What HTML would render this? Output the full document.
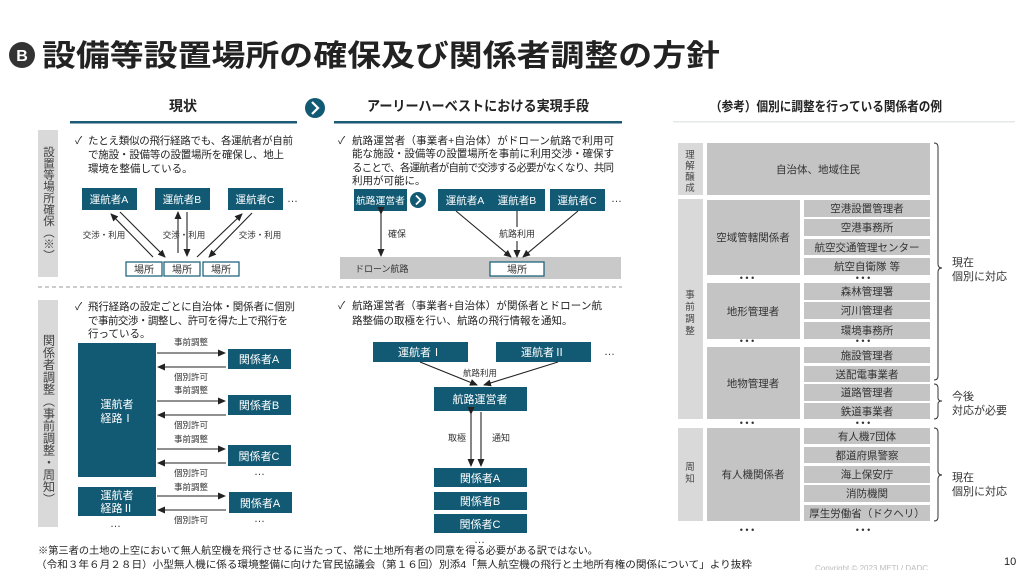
<!DOCTYPE html>
<html><head><meta charset="utf-8"><style>
html,body{margin:0;padding:0;background:#fff;}
svg{display:block;font-family:"Liberation Sans","Noto Sans CJK JP",sans-serif;}
</style></head><body>
<svg width="1023" height="570" viewBox="0 0 1023 570" xmlns="http://www.w3.org/2000/svg">
<defs>
<marker id="ah" markerWidth="8" markerHeight="8" refX="7" refY="4" orient="auto" markerUnits="userSpaceOnUse"><path d="M0,0.5 L8,4 L0,7.5 z" fill="#222"/></marker>
</defs>
<!-- Title -->
<circle cx="22" cy="55" r="13" fill="#333"/>
<text x="22" y="61" font-size="16" font-weight="bold" fill="#fff" text-anchor="middle">B</text>
<text x="42" y="66" font-size="30" font-weight="bold" fill="#222" textLength="678" lengthAdjust="spacingAndGlyphs">設備等設置場所の確保及び関係者調整の方針</text>

<!-- Headers -->
<text x="183" y="111" font-size="14" font-weight="bold" fill="#222" text-anchor="middle">現状</text>
<rect x="70" y="121" width="227" height="2.5" fill="#1a5a75"/>
<circle cx="315" cy="108" r="10" fill="#125a74"/>
<path d="M312,102 L318,108 L312,114" stroke="#fff" stroke-width="2.2" fill="none"/>
<text x="478" y="111" font-size="14" font-weight="bold" fill="#222" text-anchor="middle" textLength="222" lengthAdjust="spacingAndGlyphs">アーリーハーベストにおける実現手段</text>
<rect x="334" y="121" width="288" height="2.5" fill="#1a5a75"/>
<text x="826" y="111" font-size="13" font-weight="bold" fill="#222" text-anchor="middle" textLength="232" lengthAdjust="spacingAndGlyphs">（参考）個別に調整を行っている関係者の例</text>
<rect x="673" y="121" width="342" height="1.5" fill="#e4e8ea"/>

<!-- Left label columns -->
<rect x="38" y="130" width="20" height="147" fill="#d9d9d9"/>
<text x="48" y="146" font-size="11.5" fill="#444" style="writing-mode:vertical-rl;glyph-orientation-vertical:auto">設置等場所確保（※）</text>
<rect x="38" y="300" width="20" height="227" fill="#d9d9d9"/>
<text x="48" y="334" font-size="12.2" fill="#444" style="writing-mode:vertical-rl">関係者調整（事前調整・周知）</text>

<line x1="38" y1="287" x2="622" y2="287" stroke="#999" stroke-width="1" stroke-dasharray="4,3"/>

<!-- Upper left bullet -->
<text font-size="10.5" fill="#222">
<tspan x="75" y="144">✓</tspan>
<tspan x="88" y="144" textLength="205">たとえ類似の飛行経路でも、各運航者が自前</tspan>
<tspan x="88" y="158" textLength="196">で施設・設備等の設置場所を確保し、地上</tspan>
<tspan x="88" y="172">環境を整備している。</tspan></text>

<g fill="#125a74">
<rect x="82" y="188" width="55" height="22"/><rect x="155" y="188" width="55" height="22"/><rect x="228" y="188" width="55" height="22"/>
</g>
<g font-size="10.5" fill="#fff" text-anchor="middle">
<text x="109" y="203">運航者A</text><text x="182" y="203">運航者B</text><text x="255" y="203">運航者C</text></g>
<text x="287" y="202" font-size="11" fill="#333">…</text>
<g fill="#fff" stroke="#125a74" stroke-width="1.2">
<rect x="126" y="262" width="36" height="14"/><rect x="164" y="262" width="36" height="14"/><rect x="203" y="262" width="36" height="14"/></g>
<g font-size="10" fill="#333" text-anchor="middle"><text x="144" y="273">場所</text><text x="182" y="273">場所</text><text x="221" y="273">場所</text></g>
<g stroke="#222" stroke-width="1.1" marker-end="url(#ah)">
<line x1="153" y1="257" x2="111" y2="214"/><line x1="120" y1="212" x2="165" y2="257"/>
<line x1="178" y1="253" x2="178" y2="212"/><line x1="187" y1="212" x2="187" y2="256"/>
<line x1="197" y1="257" x2="242" y2="214"/><line x1="252" y1="213" x2="209" y2="257"/></g>
<g font-size="8.5" fill="#333" text-anchor="middle"><text x="104" y="238">交渉・利用</text><text x="184" y="238">交渉・利用</text><text x="260" y="238">交渉・利用</text></g>

<!-- Upper middle -->
<text font-size="10.5" fill="#222">
<tspan x="338" y="144">✓</tspan>
<tspan x="352" y="144" textLength="262">航路運営者（事業者+自治体）がドローン航路で利用可</tspan>
<tspan x="352" y="157" textLength="262">能な施設・設備等の設置場所を事前に利用交渉・確保す</tspan>
<tspan x="352" y="171" textLength="262">ることで、各運航者が自前で交渉する必要がなくなり、共同</tspan>
<tspan x="352" y="184">利用が可能に。</tspan></text>
<rect x="340" y="257" width="281" height="22" fill="#c9c9c9"/>
<text x="355" y="272" font-size="9" fill="#333">ドローン航路</text>
<rect x="490" y="262" width="54" height="14" fill="#fff" stroke="#125a74" stroke-width="1.2"/>
<text x="517" y="273" font-size="10" fill="#333" text-anchor="middle">場所</text>
<g fill="#125a74">
<rect x="354" y="189" width="53" height="22"/><rect x="438" y="189" width="55" height="22"/><rect x="490" y="189" width="55" height="22"/><rect x="550" y="189" width="55" height="22"/></g>
<circle cx="418" cy="200" r="8" fill="#125a74"/>
<path d="M416,195.5 L420.5,200 L416,204.5" stroke="#fff" stroke-width="1.8" fill="none"/>
<g font-size="10.5" fill="#fff" text-anchor="middle">
<text x="380.5" y="204" font-size="9.8">航路運営者</text><text x="465" y="204">運航者A</text><text x="517" y="204">運航者B</text><text x="577" y="204">運航者C</text></g>
<text x="611" y="202" font-size="11" fill="#333">…</text>
<g stroke="#222" stroke-width="1.1">
<line x1="381" y1="214" x2="381" y2="256" marker-end="url(#ah)" marker-start="url(#ah)"/>
<line x1="456" y1="211" x2="511" y2="257" marker-end="url(#ah)"/>
<line x1="517" y1="211" x2="517" y2="227"/>
<line x1="517" y1="241" x2="517" y2="257" marker-end="url(#ah)"/>
<line x1="578" y1="211" x2="523" y2="257" marker-end="url(#ah)"/></g>
<text x="388" y="237" font-size="9" fill="#333">確保</text>
<text x="517" y="237" font-size="9" fill="#333" text-anchor="middle">航路利用</text>

<!-- Lower left -->
<text font-size="10.5" fill="#222">
<tspan x="75" y="310">✓</tspan>
<tspan x="88" y="310" textLength="207">飛行経路の設定ごとに自治体・関係者に個別</tspan>
<tspan x="88" y="324" textLength="200">で事前交渉・調整し、許可を得た上で飛行を</tspan>
<tspan x="88" y="337">行っている。</tspan></text>
<rect x="78" y="343" width="78" height="134" fill="#125a74"/>
<rect x="78" y="487" width="78" height="29" fill="#125a74"/>
<g font-size="11" fill="#fff" text-anchor="middle"><text x="117" y="408">運航者</text><text x="117" y="422">経路Ⅰ</text>
<text x="117" y="499">運航者</text><text x="117" y="512">経路Ⅱ</text></g>
<text x="110" y="527" font-size="11" fill="#333">…</text>
<g fill="#125a74"><rect x="228" y="349" width="63" height="20"/><rect x="228" y="395" width="63" height="20"/><rect x="228" y="445" width="63" height="21"/><rect x="229" y="492" width="63" height="21"/></g>
<g font-size="11" fill="#fff" text-anchor="middle"><text x="259" y="363">関係者A</text><text x="259" y="409">関係者B</text><text x="259" y="460">関係者C</text><text x="260" y="507">関係者A</text></g>
<text x="254" y="475" font-size="11" fill="#333">…</text><text x="254" y="522" font-size="11" fill="#333">…</text>
<g stroke="#222" stroke-width="1.1" marker-end="url(#ah)">
<line x1="157" y1="353" x2="225" y2="353"/><line x1="226" y1="367" x2="158" y2="367"/>
<line x1="157" y1="401" x2="225" y2="401"/><line x1="226" y1="415" x2="158" y2="415"/>
<line x1="157" y1="449" x2="225" y2="449"/><line x1="226" y1="463" x2="158" y2="463"/>
<line x1="157" y1="496" x2="225" y2="496"/><line x1="226" y1="510" x2="158" y2="510"/></g>
<g font-size="8.5" fill="#333" text-anchor="middle">
<text x="191" y="345">事前調整</text><text x="191" y="380">個別許可</text>
<text x="191" y="393">事前調整</text><text x="191" y="428">個別許可</text>
<text x="191" y="442">事前調整</text><text x="191" y="476">個別許可</text>
<text x="191" y="490">事前調整</text><text x="191" y="523">個別許可</text></g>

<!-- Lower middle -->
<text font-size="10.5" fill="#222">
<tspan x="338" y="309">✓</tspan>
<tspan x="352" y="309" textLength="250">航路運営者（事業者+自治体）が関係者とドローン航</tspan>
<tspan x="352" y="324">路整備の取極を行い、航路の飛行情報を通知。</tspan></text>
<g fill="#125a74"><rect x="373" y="342" width="95" height="20"/><rect x="496" y="342" width="95" height="20"/>
<rect x="434" y="387" width="93" height="24"/><rect x="434" y="468" width="93" height="19"/><rect x="434" y="492" width="93" height="18"/><rect x="434" y="514" width="93" height="19"/></g>
<g font-size="11" fill="#fff" text-anchor="middle"><text x="420" y="356">運航者Ⅰ</text><text x="543" y="356">運航者Ⅱ</text><text x="480" y="403">航路運営者</text>
<text x="480" y="482">関係者A</text><text x="480" y="505">関係者B</text><text x="480" y="528">関係者C</text></g>
<text x="604" y="355" font-size="11" fill="#333">…</text>
<text x="474" y="543" font-size="11" fill="#333">…</text>
<g stroke="#222" stroke-width="1.1">
<line x1="420" y1="362" x2="477" y2="385" marker-end="url(#ah)"/>
<line x1="558" y1="362" x2="484" y2="385" marker-end="url(#ah)"/>
<line x1="471" y1="414" x2="471" y2="466" marker-start="url(#ah)" marker-end="url(#ah)"/>
<line x1="481" y1="412" x2="481" y2="466" marker-end="url(#ah)"/></g>
<text x="480" y="376" font-size="8.5" fill="#333" text-anchor="middle">航路利用</text>
<text x="448" y="441" font-size="9" fill="#333">取極</text>
<text x="492" y="441" font-size="9" fill="#333">通知</text>

<!-- Right side -->
<g fill="#d9d9d9"><rect x="678" y="143" width="25" height="52"/><rect x="678" y="199" width="25" height="220"/><rect x="678" y="428" width="25" height="93"/></g>
<g font-size="9.5" fill="#444" text-anchor="middle">
<text x="690" y="158">理</text><text x="690" y="169">解</text><text x="690" y="180">醸</text><text x="690" y="191">成</text>
<text x="690" y="298">事</text><text x="690" y="310">前</text><text x="690" y="322">調</text><text x="690" y="334">整</text>
<text x="690" y="470">周</text><text x="690" y="482">知</text></g>
<g fill="#c4c4c4">
<rect x="707" y="143" width="223" height="52"/>
<rect x="707" y="200" width="93" height="75"/><rect x="707" y="283" width="93" height="56"/><rect x="707" y="347" width="93" height="72"/><rect x="707" y="428" width="93" height="93"/>
<rect x="804" y="200" width="126" height="17"/><rect x="804" y="219" width="126" height="17"/><rect x="804" y="239" width="126" height="16"/><rect x="804" y="258" width="126" height="17"/>
<rect x="804" y="283" width="126" height="17"/><rect x="804" y="302" width="126" height="17"/><rect x="804" y="322" width="126" height="17"/>
<rect x="804" y="347" width="126" height="16"/><rect x="804" y="366" width="126" height="16"/><rect x="804" y="384" width="126" height="17"/><rect x="804" y="403" width="126" height="16"/>
<rect x="804" y="428" width="126" height="16"/><rect x="804" y="447" width="126" height="16"/><rect x="804" y="466" width="126" height="17"/><rect x="804" y="485" width="126" height="17"/><rect x="804" y="505" width="126" height="16"/></g>
<g font-size="10.5" fill="#333" text-anchor="middle">
<text x="818" y="173">自治体、地域住民</text>
<text x="753" y="241">空域管轄関係者</text><text x="753" y="315">地形管理者</text><text x="753" y="387">地物管理者</text><text x="753" y="478">有人機関係者</text>
<text x="867" y="212">空港設置管理者</text><text x="867" y="231">空港事務所</text><text x="867" y="251">航空交通管理センター</text><text x="867" y="270">航空自衛隊 等</text>
<text x="867" y="295">森林管理署</text><text x="867" y="314">河川管理者</text><text x="867" y="334">環境事務所</text>
<text x="867" y="359">施設管理者</text><text x="867" y="378">送配電事業者</text><text x="867" y="396">道路管理者</text><text x="867" y="415">鉄道事業者</text>
<text x="867" y="440">有人機7団体</text><text x="867" y="459">都道府県警察</text><text x="867" y="478">海上保安庁</text><text x="867" y="497">消防機関</text><text x="867" y="517">厚生労働省（ドクヘリ）</text></g>
<g font-size="9" fill="#333" text-anchor="middle">
<text x="747" y="281">• • •</text><text x="863" y="281">• • •</text>
<text x="747" y="344">• • •</text><text x="863" y="344">• • •</text>
<text x="747" y="426">• • •</text><text x="863" y="426">• • •</text>
<text x="747" y="533">• • •</text><text x="863" y="533">• • •</text></g>
<g stroke="#333" stroke-width="1" fill="none">
<path d="M934,143 Q938,143 938,147 L938,264 Q938,268 942,268 Q938,268 938,272 L938,376 Q938,380 934,380"/>
<path d="M934,384 Q938,384 938,388 L938,398 Q938,401 942,401 Q938,401 938,404 L938,415 Q938,419 934,419"/>
<path d="M934,428 Q938,428 938,432 L938,471 Q938,475 942,475 Q938,475 938,479 L938,517 Q938,521 934,521"/></g>
<g font-size="11" fill="#333">
<text x="952" y="266">現在</text><text x="952" y="280">個別に対応</text>
<text x="952" y="400">今後</text><text x="952" y="414">対応が必要</text>
<text x="952" y="481">現在</text><text x="952" y="495">個別に対応</text></g>

<!-- Footnote -->
<g font-size="10" fill="#222">
<text x="38" y="554" textLength="560" lengthAdjust="spacingAndGlyphs">※第三者の土地の上空において無人航空機を飛行させるに当たって、常に土地所有者の同意を得る必要がある訳ではない。</text>
<text x="36" y="568" textLength="716" lengthAdjust="spacingAndGlyphs">（令和３年６月２８日）小型無人機に係る環境整備に向けた官民協議会（第１６回）別添4「無人航空機の飛行と土地所有権の関係について」より抜粋</text></g>
<text x="815" y="571" font-size="8" fill="#bbb">Copyright © 2023 METI / DADC</text>
<text x="1004" y="565" font-size="11" fill="#222">10</text>
</svg>
</body></html>
